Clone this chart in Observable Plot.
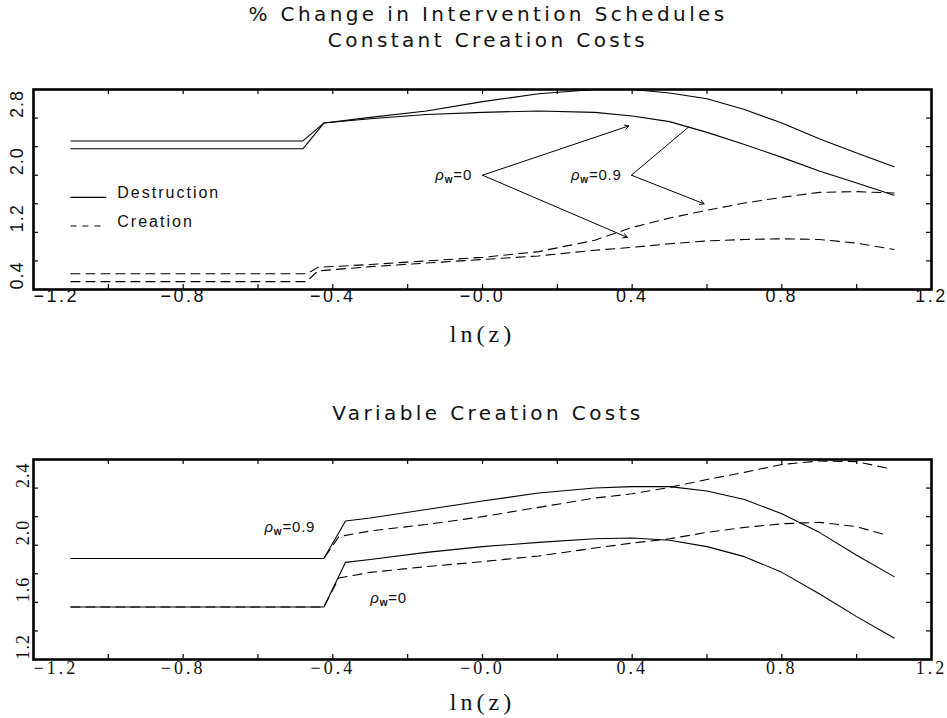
<!DOCTYPE html>
<html><head><meta charset="utf-8">
<script src="https://cdn.jsdelivr.net/npm/d3@7"></script>
<script src="https://cdn.jsdelivr.net/npm/@observablehq/plot@0.6"></script>
<style>
body{margin:0;background:#fff;}
#root{position:relative;width:947px;height:718px;overflow:hidden;background:#fff;}
.t{position:absolute;left:488px;transform:translateX(-50%);white-space:nowrap;font-family:"DejaVu Sans";font-size:20px;letter-spacing:3.4px;line-height:20px;color:#111;}
.p{position:absolute;left:0;}
</style></head><body><div id="root">
<div class="t" style="top:4px">% Change in Intervention Schedules</div>
<div class="t" style="top:30px">Constant Creation Costs</div>
<div class="t" style="top:403px">Variable Creation Costs</div>
<div class="p" id="p1" style="top:59px"></div>
<div class="p" id="p2" style="top:430px"></div>
</div>
<script>
// ---------------- data ----------------
const xTickValues = [-1.2, -0.8, -0.4, 0, 0.4, 0.8, 1.2];
const xTickLabels = ["−1.2", "−0.8", "−0.4", "−0.0", "0.4", "0.8", "1.2"];
const xMinorTicks = [-1.0, -0.8, -0.6, -0.4, -0.2, 0, 0.2, 0.4, 0.6, 0.8, 1.0];

const yTickTop = [0.4, 1.2, 2.0, 2.8];
const yTickTopLabels = ["0.4", "1.2", "2.0", "2.8"];
const yMinorTop = [0.8, 1.2, 1.6, 2.0, 2.4, 2.8];

const yTickBot = [1.2, 1.6, 2.0, 2.4];
const yTickBotLabels = ["1.2", "1.6", "2.0", "2.4"];
const yMinorBot = [1.4, 1.6, 1.8, 2.0, 2.2, 2.4];

// Constant creation costs
const constLnzD = [-1.1, -0.48, -0.424, -0.3, -0.15, 0, 0.15, 0.3, 0.4, 0.5, 0.6, 0.7, 0.8, 0.9, 1.0, 1.1];
const constDestrRho09 = [2.48, 2.48, 2.73, 2.81, 2.90, 3.03, 3.14, 3.20, 3.20, 3.15, 3.07, 2.92, 2.73, 2.51, 2.31, 2.12];
const constDestrRho0  = [2.37, 2.37, 2.73, 2.79, 2.85, 2.88, 2.90, 2.88, 2.83, 2.75, 2.60, 2.43, 2.25, 2.06, 1.89, 1.72];
const constLnzC = [-1.1, -0.47, -0.44, -0.3, -0.15, 0, 0.15, 0.3, 0.4, 0.5, 0.6, 0.7, 0.8, 0.9, 1.0, 1.1];
const constCreatRho09 = [0.62, 0.62, 0.71, 0.75, 0.80, 0.85, 0.93, 1.09, 1.27, 1.40, 1.51, 1.61, 1.69, 1.76, 1.77, 1.75];
const constCreatRho0  = [0.51, 0.51, 0.66, 0.72, 0.77, 0.82, 0.87, 0.95, 0.99, 1.04, 1.08, 1.10, 1.11, 1.10, 1.05, 0.96];

// Variable creation costs
const varLnzD = [-1.1, -0.424, -0.366, -0.3, -0.15, 0, 0.15, 0.3, 0.4, 0.5, 0.6, 0.7, 0.8, 0.9, 1.0, 1.1];
const varDestrRho09 = [1.907, 1.907, 2.17, 2.19, 2.25, 2.31, 2.365, 2.40, 2.41, 2.41, 2.38, 2.32, 2.22, 2.09, 1.93, 1.78];
const varDestrRho0  = [1.567, 1.567, 1.88, 1.90, 1.95, 1.99, 2.02, 2.045, 2.05, 2.035, 1.99, 1.92, 1.81, 1.66, 1.50, 1.35];
const varLnzC = [-1.1, -0.424, -0.384, -0.3, -0.15, 0, 0.15, 0.3, 0.4, 0.5, 0.6, 0.7, 0.8, 0.9, 1.0, 1.08];
const varCreatRho09 = [1.907, 1.907, 2.06, 2.10, 2.145, 2.20, 2.265, 2.33, 2.36, 2.405, 2.46, 2.51, 2.565, 2.59, 2.585, 2.54];
const varCreatRho0  = [1.567, 1.567, 1.77, 1.81, 1.85, 1.885, 1.925, 1.98, 2.015, 2.045, 2.09, 2.125, 2.15, 2.16, 2.13, 2.07];

const legendLabels = ["Destruction", "Creation"];
const xAxisLabel = "ln(z)";

// annotation anchors (data units)
const topLabels = [
  {x: -0.028, y: 2.0, text: "ρw=0"},
  {x: 0.372, y: 2.0, text: "ρw=0.9"}
];
const topArrows = [
  {x1: 0.0, y1: 2.0, x2: 0.391, y2: 2.69},
  {x1: 0.0, y1: 2.0, x2: 0.387, y2: 1.13},
  {x1: 0.398, y1: 2.0, x2: 0.592, y2: 1.60}
];
const topLinks = [
  {x1: 0.398, y1: 2.0, x2: 0.552, y2: 2.68}
];
const botLabelsEnd = [{x: -0.447, y: 2.126, text: "ρw=0.9"}];
const botLabelsStart = [{x: -0.30, y: 1.63, text: "ρw=0"}];
const legendPos = {x1: -1.1, x2: -1.004, xt: -0.976, y: [1.69, 1.29]};

// ---------------- helpers ----------------
const toRows = (xs, ys) => xs.map((x, i) => ({x, y: ys[i]}));
const DASH = "9,6";

function frameMarks(yMinor, frameW, frameH) {
  return [
    Plot.tickX(xMinorTicks, {x: d => d, insetTop: frameH - 5, stroke: "black", strokeWidth: 1.2}),
    Plot.tickX(xMinorTicks, {x: d => d, insetBottom: frameH - 5, stroke: "black", strokeWidth: 1.2}),
    Plot.tickY(yMinor, {y: d => d, insetRight: frameW - 5, stroke: "black", strokeWidth: 1.2}),
    Plot.tickY(yMinor, {y: d => d, insetLeft: frameW - 5, stroke: "black", strokeWidth: 1.2}),
    Plot.frame({stroke: "black", strokeWidth: 2.6})
  ];
}

// letter spacing & subscripts applied after render, keyed by text content
function polishText(svg, xSpacing) {
  d3.select(svg).selectAll("text").each(function() {
    const t = this.textContent;
    const sel = d3.select(this);
    const rotated = (this.getAttribute("transform") || "").includes("rotate");
    if (t.startsWith("ρw")) {
      const rest = t.slice(2);
      sel.text(null);
      sel.attr("style", "letter-spacing:0.8px");
      sel.append("tspan").attr("font-style", "italic").text("ρ");
      sel.append("tspan").attr("font-size", "10px").attr("font-weight", "bold").attr("dy", "3").text("w");
      sel.append("tspan").attr("dy", "-3").text(rest);
    } else if (rotated) {
      sel.attr("style", "letter-spacing:1px");
    } else if (xTickLabels.includes(t)) {
      sel.attr("style", `letter-spacing:${xSpacing}px`);
    } else if (legendLabels.includes(t)) {
      sel.attr("style", "letter-spacing:2px");
    } else if (t === xAxisLabel) {
      sel.attr("style", "letter-spacing:4px");
    }
  });
}

const W = 947, ML = 33, MR = 16;
const frameW = W - ML - MR;

// ---------------- top panel ----------------
{
  const H = 292, MT = 30, MB = 62, frameH = H - MT - MB;
  const svg = Plot.plot({
    width: W, height: H, marginTop: MT, marginBottom: MB, marginLeft: ML, marginRight: MR,
    x: {domain: [-1.2, 1.2], axis: null},
    y: {domain: [0.4, 3.2], axis: null},
    style: {fontFamily: "Liberation Sans", fontSize: "18px", background: "white", color: "#111", overflow: "visible"},
    marks: [
      Plot.line(toRows(constLnzD, constDestrRho09), {x: "x", y: "y", stroke: "black", strokeWidth: 1.1}),
      Plot.line(toRows(constLnzD, constDestrRho0), {x: "x", y: "y", stroke: "black", strokeWidth: 1.1}),
      Plot.line(toRows(constLnzC, constCreatRho09), {x: "x", y: "y", stroke: "black", strokeWidth: 1.1, strokeDasharray: DASH}),
      Plot.line(toRows(constLnzC, constCreatRho0), {x: "x", y: "y", stroke: "black", strokeWidth: 1.1, strokeDasharray: DASH}),
      Plot.arrow(topArrows, {x1: "x1", y1: "y1", x2: "x2", y2: "y2", stroke: "black", strokeWidth: 1, headLength: 7}),
      Plot.link(topLinks, {x1: "x1", y1: "y1", x2: "x2", y2: "y2", stroke: "black", strokeWidth: 1}),
      Plot.text(topLabels, {x: "x", y: "y", text: "text", textAnchor: "end", fontSize: 15, fill: "#111"}),
      // legend
      Plot.ruleY([legendPos.y[0]], {y: d => d, x1: legendPos.x1, x2: legendPos.x2, stroke: "black", strokeWidth: 1.1}),
      Plot.ruleY([legendPos.y[1]], {y: d => d, x1: legendPos.x1, x2: legendPos.x2, stroke: "black", strokeWidth: 1.1, strokeDasharray: "6,6"}),
      Plot.text(legendLabels, {x: legendPos.xt, y: (d, i) => legendPos.y[i], text: d => d, textAnchor: "start", lineAnchor: "bottom", dy: 1, fontSize: 16, fill: "#111"}),
      ...frameMarks(yMinorTop, frameW, frameH),
      // tick labels
      Plot.text(xTickValues.slice(0, 1), {x: d => d, text: (d, i) => xTickLabels[i], frameAnchor: "bottom", dy: 12, textAnchor: "start", fontSize: 18}),
      Plot.text(xTickValues.slice(1), {x: d => d, text: (d, i) => xTickLabels[i + 1], frameAnchor: "bottom", dy: 12, fontSize: 18}),
      Plot.text(yTickTop, {y: d => d, text: (d, i) => yTickTopLabels[i], frameAnchor: "left", dx: -16, rotate: -90, fontSize: 18}),
      Plot.text([xAxisLabel], {text: d => d, frameAnchor: "bottom", dy: 52, fontSize: 24, fontFamily: "Liberation Serif"})
    ]
  });
  polishText(svg, 2.5);
  document.getElementById("p1").appendChild(svg);
}

// ---------------- bottom panel ----------------
{
  const H = 288, MT = 29, MB = 59, frameH = H - MT - MB;
  const svg = Plot.plot({
    width: W, height: H, marginTop: MT, marginBottom: MB, marginLeft: ML, marginRight: MR,
    x: {domain: [-1.2, 1.2], axis: null},
    y: {domain: [1.2, 2.6], axis: null},
    style: {fontFamily: "Liberation Serif", fontSize: "18px", background: "white", color: "#111", overflow: "visible"},
    marks: [
      Plot.line(toRows(varLnzC, varCreatRho09), {x: "x", y: "y", stroke: "black", strokeWidth: 1.1, strokeDasharray: DASH}),
      Plot.line(toRows(varLnzC, varCreatRho0), {x: "x", y: "y", stroke: "black", strokeWidth: 1.1, strokeDasharray: DASH}),
      Plot.line(toRows(varLnzD, varDestrRho09), {x: "x", y: "y", stroke: "black", strokeWidth: 1.1}),
      Plot.line(toRows(varLnzD, varDestrRho0), {x: "x", y: "y", stroke: "black", strokeWidth: 1.1}),
      Plot.text(botLabelsEnd, {x: "x", y: "y", text: "text", textAnchor: "end", fontSize: 15, fontFamily: "Liberation Sans", fill: "#111"}),
      Plot.text(botLabelsStart, {x: "x", y: "y", text: "text", textAnchor: "start", fontSize: 15, fontFamily: "Liberation Sans", fill: "#111"}),
      ...frameMarks(yMinorBot, frameW, frameH),
      Plot.text(xTickValues.slice(0, 1), {x: d => d, text: (d, i) => xTickLabels[i], frameAnchor: "bottom", dy: 14, textAnchor: "start", fontSize: 18}),
      Plot.text(xTickValues.slice(1), {x: d => d, text: (d, i) => xTickLabels[i + 1], frameAnchor: "bottom", dy: 14, fontSize: 18}),
      Plot.text(yTickBot, {y: d => d, text: (d, i) => yTickBotLabels[i], frameAnchor: "left", dx: -10, rotate: -90, fontSize: 18}),
      Plot.text([xAxisLabel], {text: d => d, frameAnchor: "bottom", dy: 50, fontSize: 24})
    ]
  });
  polishText(svg, 3);
  document.getElementById("p2").appendChild(svg);
}
</script>
</body></html>
